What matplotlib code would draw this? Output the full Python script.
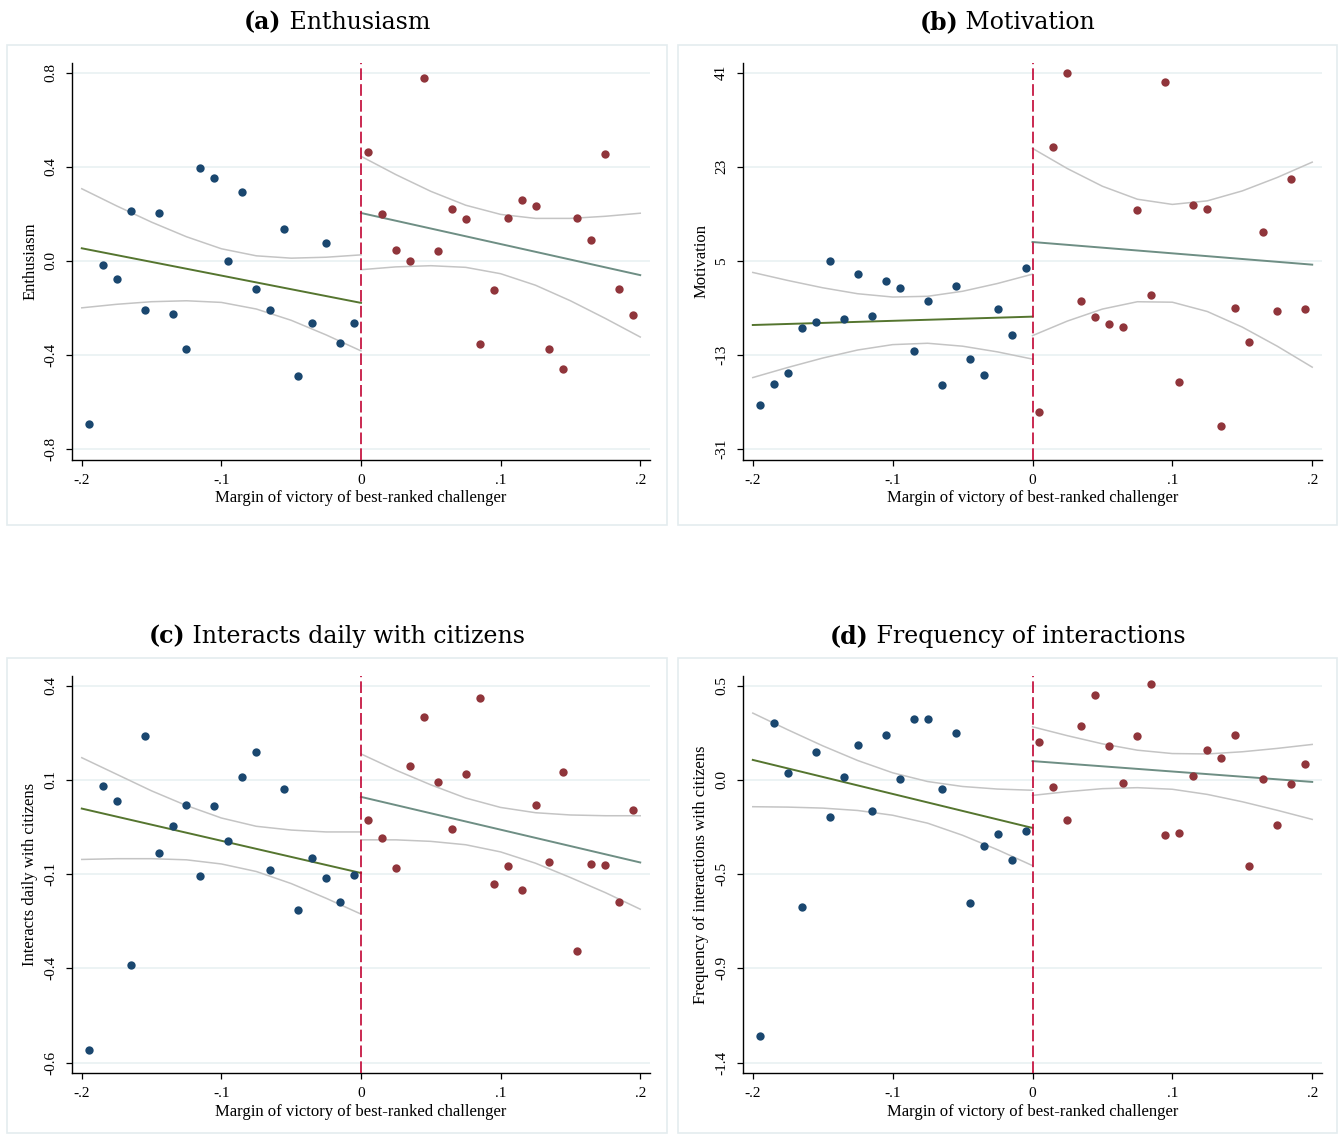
import matplotlib.pyplot as plt
from matplotlib.patches import Rectangle
from matplotlib.offsetbox import TextArea, HPacker, AnnotationBbox

# bin midpoints of the margin of victory
bins_left = [-0.195, -0.185, -0.175, -0.165, -0.155, -0.145, -0.135, -0.125, -0.115, -0.105,
             -0.095, -0.085, -0.075, -0.065, -0.055, -0.045, -0.035, -0.025, -0.015, -0.005]
bins_right = [0.005, 0.015, 0.025, 0.035, 0.045, 0.055, 0.065, 0.075, 0.085, 0.095,
              0.105, 0.115, 0.125, 0.135, 0.145, 0.155, 0.165, 0.175, 0.185, 0.195]
fit_x_left = [-0.2, 0.0]
fit_x_right = [0.0, 0.2]
# positions where the confidence bands were read
band_x_left = [-0.2, -0.175, -0.15, -0.125, -0.1, -0.075, -0.05, -0.025, 0.0]
band_x_right = [0.0, 0.025, 0.05, 0.075, 0.1, 0.125, 0.15, 0.175, 0.2]

x_ticks = [-0.2, -0.1, 0.0, 0.1, 0.2]
x_ticklabels = ['-.2', '-.1', '0', '.1', '.2']

# (a) Enthusiasm
enth_left = [-0.694, -0.017, -0.075, 0.211, -0.208, 0.205, -0.227, -0.374, 0.395, 0.353,
             0.001, 0.292, -0.118, -0.210, 0.136, -0.487, -0.263, 0.078, -0.350, -0.263]
enth_right = [0.463, 0.198, 0.045, -0.001, 0.776, 0.041, 0.222, 0.180, -0.351, -0.122,
              0.183, 0.258, 0.235, -0.372, -0.457, 0.181, 0.091, 0.456, -0.118, -0.228]
enth_fit_left = [0.054, -0.178]
enth_fit_right = [0.204, -0.060]
enth_hi_left = [0.307, 0.234, 0.165, 0.103, 0.052, 0.022, 0.012, 0.016, 0.026]
enth_lo_left = [-0.199, -0.184, -0.173, -0.169, -0.176, -0.204, -0.252, -0.314, -0.382]
enth_hi_right = [0.445, 0.367, 0.296, 0.237, 0.198, 0.181, 0.181, 0.190, 0.203]
enth_lo_right = [-0.037, -0.025, -0.020, -0.027, -0.054, -0.103, -0.169, -0.244, -0.323]
enth_ticks = [0.8, 0.4, 0.0, -0.4, -0.8]
enth_ticklabels = ['0.8', '0.4', '0.0', '-0.4', '-0.8']

# (b) Motivation
motiv_left = [-22.46, -18.51, -16.41, -7.81, -6.60, 5.06, -6.15, 2.51, -5.58, 1.24,
              -0.23, -12.21, -2.58, -18.77, 0.22, -13.67, -16.79, -4.11, -9.15, 3.72]
motiv_right = [-23.80, 26.85, 40.94, -2.65, -5.64, -7.04, -7.56, 14.68, -1.44, 39.22,
               -18.07, 15.70, 14.94, -26.48, -3.99, -10.55, 10.54, -4.56, 20.74, -4.18]
motiv_fit_left = [-7.24, -5.64]
motiv_fit_right = [8.63, 4.30]
motiv_hi_left = [2.81, 1.28, -0.12, -1.26, -1.89, -1.75, -0.79, 0.70, 2.48]
motiv_lo_left = [-17.29, -15.36, -13.56, -12.02, -10.99, -10.73, -11.29, -12.38, -13.76]
motiv_hi_right = [26.53, 22.66, 19.29, 16.81, 15.82, 16.50, 18.40, 20.97, 23.90]
motiv_lo_right = [-9.27, -6.48, -4.19, -2.79, -2.88, -4.66, -7.64, -11.29, -15.30]
motiv_ticks = [41, 23, 5, -13, -31]
motiv_ticklabels = ['41', '23', '5', '-13', '-31']

# (c) Interacts daily with citizens
daily_left = [-0.566, 0.135, 0.095, -0.341, 0.267, -0.043, 0.027, 0.084, -0.106, 0.081,
              -0.012, 0.157, 0.225, -0.090, 0.125, -0.194, -0.058, -0.109, -0.173, -0.101]
daily_right = [0.043, -0.003, -0.084, 0.188, 0.316, 0.145, 0.019, 0.165, 0.368, -0.127,
               -0.079, -0.142, 0.084, -0.067, 0.171, -0.305, -0.073, -0.077, -0.175, 0.071]
daily_fit_left = [0.074, -0.097]
daily_fit_right = [0.105, -0.069]
daily_hi_left = [0.209, 0.165, 0.121, 0.082, 0.049, 0.027, 0.017, 0.012, 0.012]
daily_lo_left = [-0.061, -0.059, -0.059, -0.062, -0.073, -0.093, -0.125, -0.164, -0.206]
daily_hi_right = [0.219, 0.176, 0.137, 0.102, 0.077, 0.063, 0.057, 0.055, 0.055]
daily_lo_right = [-0.009, -0.009, -0.013, -0.022, -0.041, -0.071, -0.109, -0.149, -0.193]
daily_ticks = [0.4, 0.15, -0.1, -0.35, -0.6]
daily_ticklabels = ['0.4', '0.1', '-0.1', '-0.4', '-0.6']

# (d) Frequency of interactions with citizens
freq_left = [-1.268, 0.311, 0.062, -0.617, 0.164, -0.164, 0.042, 0.199, -0.132, 0.250,
             0.032, 0.333, 0.333, -0.019, 0.262, -0.597, -0.306, -0.249, -0.377, -0.234]
freq_right = [0.214, -0.012, -0.178, 0.295, 0.454, 0.194, 0.008, 0.246, 0.510, -0.254,
              -0.244, 0.045, 0.175, 0.137, 0.253, -0.408, 0.030, -0.200, 0.005, 0.103]
freq_fit_left = [0.126, -0.217]
freq_fit_right = [0.120, 0.015]
freq_hi_left = [0.362, 0.278, 0.197, 0.123, 0.061, 0.017, -0.008, -0.021, -0.027]
freq_lo_left = [-0.110, -0.112, -0.117, -0.129, -0.153, -0.193, -0.254, -0.327, -0.407]
freq_hi_right = [0.293, 0.248, 0.207, 0.175, 0.158, 0.156, 0.167, 0.184, 0.204]
freq_lo_right = [-0.053, -0.034, -0.019, -0.014, -0.022, -0.048, -0.085, -0.128, -0.174]
freq_ticks = [0.5, 0.025, -0.45, -0.925, -1.4]
freq_ticklabels = ['0.5', '0.0', '-0.5', '-0.9', '-1.4']

NAVY = '#1a476f'
MAROON = '#90353b'
GREEN = '#55752f'
TEAL = '#6e8e84'
BAND = '#c4c4c4'
VLINE = '#c10534'
GRID = '#eaf2f3'
BORDER = '#e4ecef'
SERIF = ['Liberation Serif', 'DejaVu Serif']
TFONT = 'DejaVu Serif'

W, H = 1339, 1134
fig = plt.figure(figsize=(W / 100, H / 100), dpi=100)

panels = [
    ('(a)', 'Enthusiasm', 'Enthusiasm', enth_left, enth_right, enth_fit_left, enth_fit_right,
     enth_hi_left, enth_lo_left, enth_hi_right, enth_lo_right, enth_ticks, enth_ticklabels),
    ('(b)', 'Motivation', 'Motivation', motiv_left, motiv_right, motiv_fit_left, motiv_fit_right,
     motiv_hi_left, motiv_lo_left, motiv_hi_right, motiv_lo_right, motiv_ticks, motiv_ticklabels),
    ('(c)', 'Interacts daily with citizens', 'Interacts daily with citizens', daily_left, daily_right,
     daily_fit_left, daily_fit_right, daily_hi_left, daily_lo_left, daily_hi_right, daily_lo_right,
     daily_ticks, daily_ticklabels),
    ('(d)', 'Frequency of interactions', 'Frequency of interactions with citizens', freq_left, freq_right,
     freq_fit_left, freq_fit_right, freq_hi_left, freq_lo_left, freq_hi_right, freq_lo_right,
     freq_ticks, freq_ticklabels),
]

# pixel layout: (axes left, axes right, axes top, axes bottom, box left, box right, box top, box bottom, title y)
layout = [
    (72, 650, 62.7, 460, 7, 667, 45, 525, 22),
    (743, 1322, 62.7, 460, 678, 1337, 45, 525, 22),
    (72, 650, 675.7, 1073.3, 7, 667, 658, 1133, 636),
    (743, 1322, 675.7, 1073.3, 678, 1337, 658, 1133, 636),
]

for p, lay in zip(panels, layout):
    (tag, title, ylabel, yl, yr, fl, fr, hil, lol, hir, lor, yt, ytl) = p
    axl, axr, axt, axb, bl, br, bt, bb, ty = lay

    fig.add_artist(Rectangle((bl / W, 1 - bb / H), (br - bl) / W, (bb - bt) / H,
                             transform=fig.transFigure, fill=False, ec=BORDER, lw=1.2))

    ax = fig.add_axes([axl / W, 1 - axb / H, (axr - axl) / W, (axb - axt) / H])
    span = max(yt) - min(yt)
    ax.set_ylim(min(yt) - 0.0285 * span, max(yt) + 0.0266 * span)
    ax.set_xlim(-0.207, 0.207)

    for t in yt:
        ax.axhline(t, color=GRID, lw=1.3, zorder=0)

    ax.plot(band_x_left, hil, color=BAND, lw=1.1, zorder=2)
    ax.plot(band_x_left, lol, color=BAND, lw=1.1, zorder=2)
    ax.plot(band_x_right, hir, color=BAND, lw=1.1, zorder=2)
    ax.plot(band_x_right, lor, color=BAND, lw=1.1, zorder=2)
    ax.plot(fit_x_left, fl, color=GREEN, lw=1.4, zorder=3)
    ax.plot(fit_x_right, fr, color=TEAL, lw=1.4, zorder=3)
    ax.axvline(0, color=VLINE, lw=1.2, dashes=(7, 2.5), zorder=4)
    ax.scatter(bins_left, yl, s=36, color=NAVY, zorder=5, linewidths=0)
    ax.scatter(bins_right, yr, s=36, color=MAROON, zorder=5, linewidths=0)

    ax.spines['top'].set_visible(False)
    ax.spines['right'].set_visible(False)
    ax.spines['left'].set_linewidth(1.0)
    ax.spines['bottom'].set_linewidth(1.0)

    ax.set_xticks(x_ticks)
    ax.set_xticklabels(x_ticklabels, fontfamily=SERIF, fontsize=11)
    ax.set_yticks(yt)
    ax.set_yticklabels(ytl, fontfamily=SERIF, fontsize=11, rotation=90, va='center', ha='center')
    ax.tick_params(axis='both', direction='out', length=4.5, width=0.9)
    ax.tick_params(axis='x', pad=5.5)
    ax.tick_params(axis='y', pad=11)

    ax.set_xlabel('Margin of victory of best-ranked challenger', fontfamily=SERIF, fontsize=12, labelpad=2.5)
    ax.set_ylabel(ylabel, fontfamily=SERIF, fontsize=12, labelpad=4)

    ta = TextArea(tag, textprops=dict(fontfamily=TFONT, fontsize=17, fontweight='bold'))
    tb = TextArea(' ' + title, textprops=dict(fontfamily=TFONT, fontsize=17))
    box = HPacker(children=[ta, tb], align='baseline', pad=0, sep=0)
    ab = AnnotationBbox(box, ((bl + br) / 2 / W, 1 - ty / H), xycoords='figure fraction',
                        box_alignment=(0.5, 0.5), frameon=False)
    fig.add_artist(ab)

fig.savefig('out.png', dpi=100, facecolor='white')
